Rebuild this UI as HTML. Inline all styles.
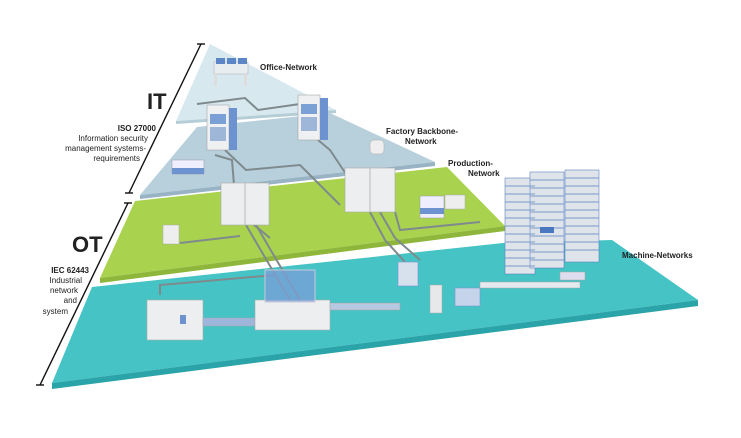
<!DOCTYPE html>
<html><head><meta charset="utf-8"><style>
html,body{margin:0;padding:0;background:#fff;width:741px;height:438px;overflow:hidden}
svg{display:block}
text{font-family:"Liberation Sans",sans-serif;fill:#222}
</style></head><body>
<svg width="741" height="438" viewBox="0 0 741 438" xmlns="http://www.w3.org/2000/svg">
<!-- Machine layer -->
<polygon points="92,287 503,243 612,240 698,300 52,383" fill="#45c3c5"/>
<polygon points="52,383 698,300 698,306 52,389" fill="#2aa4a8"/>
<!-- Production layer -->
<polygon points="135,201 447,167 505,226 100,278" fill="#a9d24f"/>
<polygon points="100,278 505,226 505,231 100,283" fill="#8db63a"/>
<!-- Backbone -->
<polygon points="197,127 330,113 435,162 140,195" fill="#b8d0dc"/>
<polygon points="140,195 435,162 435,166 140,199" fill="#97b3c4"/>
<!-- Office -->
<polygon points="210,44 336,110 176,121" fill="#d7e9ef"/>
<polygon points="176,121 336,110 336,113 176,124" fill="#b5cdd6"/>

<!-- cables -->
<g stroke="#7f8a8d" stroke-width="2" fill="none">
<path d="M197,104 L245,98 L258,110 L300,104"/>
<path d="M215,155 L232,160 L236,210 L270,238"/>
<path d="M318,140 L330,150 L350,180"/>
<path d="M225,150 L246,170 L300,165 L340,205"/>
<path d="M246,225 L290,300"/>
<path d="M256,225 L300,300"/>
<path d="M370,212 L385,240 L405,262"/>
<path d="M380,212 L395,238 L420,260"/>
<path d="M180,243 L240,236"/>
<path d="M395,212 L400,230 L480,222"/>
<path d="M160,295 L160,285 L275,275"/>
</g>

<!-- office desk -->
<rect x="214" y="62" width="34" height="12" fill="#e8eef0" stroke="#aab" stroke-width=".5"/>
<rect x="216" y="58" width="9" height="6" fill="#5c86c6"/><rect x="227" y="58" width="9" height="6" fill="#5c86c6"/><rect x="238" y="58" width="9" height="6" fill="#5c86c6"/>
<rect x="214" y="74" width="3" height="12" fill="#ddd"/><rect x="244" y="74" width="3" height="12" fill="#ddd"/>
<!-- IT racks -->
<g><rect x="207" y="105" width="22" height="45" fill="#eef0f1" stroke="#999" stroke-width=".5"/><rect x="229" y="108" width="8" height="42" fill="#6c92cf"/><rect x="210" y="114" width="16" height="10" fill="#7ba0d6"/><rect x="210" y="127" width="16" height="14" fill="#9eb6d8"/></g>
<g><rect x="298" y="95" width="22" height="45" fill="#eef0f1" stroke="#999" stroke-width=".5"/><rect x="320" y="98" width="8" height="42" fill="#6c92cf"/><rect x="301" y="104" width="16" height="10" fill="#7ba0d6"/><rect x="301" y="117" width="16" height="14" fill="#9eb6d8"/></g>
<!-- AGV backbone -->
<rect x="172" y="160" width="32" height="14" fill="#eef" stroke="#99a" stroke-width=".5"/><rect x="172" y="168" width="32" height="6" fill="#6c92cf"/>
<rect x="370" y="140" width="14" height="14" rx="4" fill="#eee" stroke="#aaa" stroke-width=".5"/>
<!-- cabinets green -->
<rect x="221" y="183" width="48" height="42" fill="#eceeef" stroke="#aaa" stroke-width=".6"/><line x1="245" y1="183" x2="245" y2="225" stroke="#bbb"/>
<rect x="345" y="168" width="50" height="44" fill="#eceeef" stroke="#aaa" stroke-width=".6"/><line x1="370" y1="168" x2="370" y2="212" stroke="#bbb"/>
<rect x="163" y="225" width="16" height="19" fill="#eee" stroke="#aaa" stroke-width=".5"/>
<rect x="420" y="196" width="24" height="22" fill="#eef" stroke="#999" stroke-width=".5"/><rect x="420" y="208" width="24" height="6" fill="#6c92cf"/><rect x="445" y="195" width="20" height="14" fill="#eee" stroke="#aaa" stroke-width=".5"/>
<!-- storage racks -->
<g fill="#dfe4ea" stroke="#5f83c0" stroke-width=".6">
<rect x="505" y="178" width="30" height="96"/><rect x="530" y="172" width="34" height="96"/><rect x="565" y="170" width="34" height="92"/>
</g>
<g stroke="#7a97c8" stroke-width="1">
<path d="M505,186H535M505,194H535M505,202H535M505,210H535M505,218H535M505,226H535M505,234H535M505,242H535M505,250H535M505,258H535M505,266H535"/>
<path d="M530,180H564M530,188H564M530,196H564M530,204H564M530,212H564M530,220H564M530,228H564M530,236H564M530,244H564M530,252H564M530,260H564"/>
<path d="M565,178H599M565,186H599M565,194H599M565,202H599M565,210H599M565,218H599M565,226H599M565,234H599M565,242H599M565,250H599"/>
</g>
<rect x="540" y="227" width="14" height="6" fill="#4a78c0"/>
<!-- machine layer equipment -->
<rect x="147" y="300" width="56" height="40" fill="#eceef0" stroke="#aaa" stroke-width=".6"/><rect x="180" y="315" width="6" height="9" fill="#6c92cf"/>
<rect x="203" y="318" width="52" height="8" fill="#9fb6dc" stroke="#aaa" stroke-width=".5"/>
<rect x="255" y="300" width="75" height="30" fill="#eceef0" stroke="#aaa" stroke-width=".6"/>
<rect x="265" y="270" width="50" height="32" fill="#7b9fd8" fill-opacity=".75" stroke="#ccd" stroke-width="1"/>
<rect x="330" y="303" width="70" height="7" fill="#b8c8e0" stroke="#aaa" stroke-width=".5"/>
<rect x="398" y="262" width="20" height="24" fill="#d7e1ee" stroke="#7a97c8" stroke-width=".6"/>
<rect x="430" y="285" width="12" height="28" fill="#e6e8ea" stroke="#aaa" stroke-width=".5"/>
<rect x="455" y="288" width="25" height="18" fill="#c5d4ea" stroke="#7a97c8" stroke-width=".6"/>
<rect x="480" y="282" width="100" height="6" fill="#e6e9ee" stroke="#aaa" stroke-width=".5"/>
<rect x="560" y="272" width="25" height="8" fill="#dde" stroke="#aaa" stroke-width=".5"/>

<!-- brackets -->
<g stroke="#111" stroke-width="1.4">
<line x1="201" y1="44" x2="129" y2="193"/><line x1="197" y1="44" x2="205" y2="44"/><line x1="125" y1="193" x2="133" y2="193"/>
<line x1="128" y1="203" x2="40" y2="385"/><line x1="124" y1="203" x2="132" y2="203"/><line x1="36" y1="385" x2="44" y2="385"/>
</g>
<!-- labels -->
<text x="147" y="109" font-size="22" font-weight="bold">IT</text>
<g font-size="8" text-anchor="end">
<text x="156" y="131" font-weight="bold">ISO 27000</text>
<text x="148" y="141">Information security</text>
<text x="146" y="151">management systems-</text>
<text x="140" y="161">requirements</text>
</g>
<text x="72" y="252" font-size="22" font-weight="bold">OT</text>
<g font-size="8" text-anchor="end">
<text x="89" y="273" font-weight="bold">IEC 62443</text>
<text x="82" y="283">Industrial</text>
<text x="78" y="293">network</text>
<text x="77" y="303">and</text>
<text x="68" y="314">system</text>
</g>
<g font-size="8" font-weight="bold">
<text x="260" y="70">Office-Network</text>
<text x="386" y="134">Factory Backbone-</text>
<text x="405" y="144">Network</text>
<text x="448" y="166">Production-</text>
<text x="468" y="176">Network</text>
<text x="622" y="258">Machine-Networks</text>
</g>
</svg>
</body></html>
